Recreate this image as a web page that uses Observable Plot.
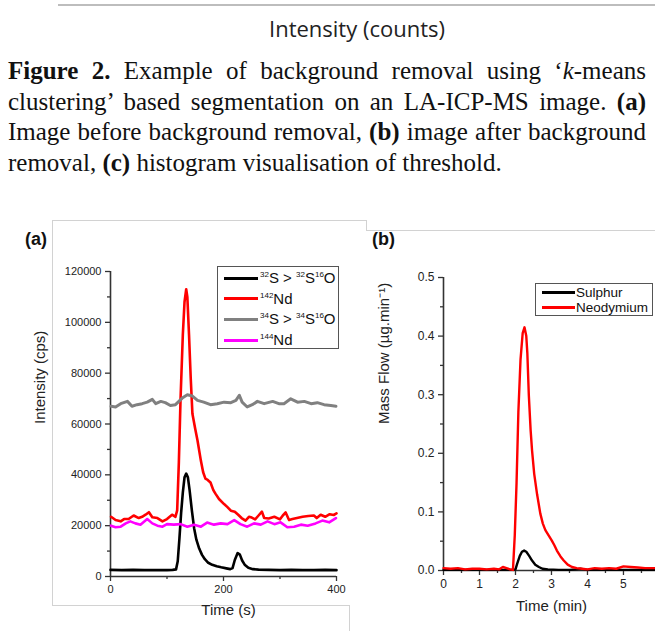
<!DOCTYPE html>
<html>
<head>
<meta charset="utf-8">
<script src="https://cdn.jsdelivr.net/npm/d3@7"></script>
<script src="https://cdn.jsdelivr.net/npm/@observablehq/plot@0.6"></script>
<style>
  html, body { margin: 0; padding: 0; background: #fff; }
  #page { position: relative; width: 655px; height: 631px; overflow: hidden; background: #fff; }
  .hline { position: absolute; height: 0; border-top: 1px solid #d2d2d2; }
  .vline { position: absolute; width: 0; border-left: 1px solid #d2d2d2; }
  #topword { position: absolute; left: 0; width: 714px; top: 14px; text-align: center; font-family: "Open Sans", sans-serif; font-size: 22px; line-height: 28px; color: #222; }
  #caption { position: absolute; left: 8px; top: 56px; width: 638px; font-family: "Liberation Serif", "Times New Roman", serif; font-size: 25px; line-height: 30.5px; text-align: justify; color: #111; }
  .plab { position: absolute; font-family: "Liberation Sans", Arial, sans-serif; font-weight: bold; font-size: 18px; color: #111; }
  .legend { position: absolute; border: 1px solid #555; background: #fff; font-family: "Liberation Sans", Arial, sans-serif; color: #111; }
  .legend .sw { position: absolute; height: 3px; }
  .legend .tx { position: absolute; white-space: nowrap; }
  .legend sup { font-size: 8px; vertical-align: 6px; line-height: 0; }
  #plotA, #plotB { position: absolute; }
</style>
</head>
<body>
<div id="page">
  <div class="hline" style="left:58px; top:4px; width:597px; border-top:2px solid #bdbdbd;"></div>
  <div id="topword">Intensity (counts)</div>
  <div id="caption"><b>Figure 2.</b> Example of background removal using ‘<i>k</i>-means clustering’ based segmentation on an LA-ICP-MS image. <b>(a)</b> Image before background removal, <b>(b)</b> image after background removal, <b>(c)</b> histogram visualisation of threshold.</div>

  <!-- panel frames -->
  <div class="hline" style="left:52px; top:220px; width:314px;"></div>
  <div class="vline" style="left:52px; top:220px; height:385px;"></div>
  <div class="vline" style="left:366px; top:220px; height:10px;"></div>
  <div class="hline" style="left:52px; top:605px; width:297px;"></div>
  <div class="vline" style="left:349px; top:605px; height:30px;"></div>
  <div class="hline" style="left:366px; top:230px; width:290px;"></div>

  <div id="plotA" style="left:0px; top:215px;"></div>
  <div id="plotB" style="left:355px; top:215px;"></div>

  <div class="plab" style="left:25px; top:229px;">(a)</div>
  <div class="plab" style="left:372px; top:229px;">(b)</div>

  <div class="legend" id="legA" style="left:217px; top:266px; width:120px; height:81px;"></div>
  <div class="legend" id="legB" style="left:535px; top:283px; width:116px; height:31px;"></div>
</div>
<script>
// ---------- Panel (a): intensity (cps) vs time (s) ----------
const seriesA = ["32S > 32S16O", "142Nd", "34S > 34S16O", "144Nd"];
const colorsA = ["#000000", "#ff0000", "#808080", "#ff00ff"];

const s32 = [[0,2600],[20,2500],[40,2600],[60,2500],[80,2500],[100,2500],[110,2600],[116,2800],[119,6000],[122,15000],[125,25000],[128,33000],[131,39000],[134,40500],[137,39000],[140,34000],[144,26000],[148,19000],[152,14500],[157,11000],[162,8500],[167,6800],[173,5400],[180,4600],[188,4000],[196,3600],[205,3200],[212,2900],[216,3300],[220,6500],[225,9200],[229,8600],[233,6300],[238,4500],[244,3400],[252,2900],[262,2700],[280,2600],[300,2500],[320,2600],[340,2500],[360,2500],[380,2600],[400,2500]];

const nd142 = [[1,23500],[9,22200],[18,21700],[24,22600],[32,22600],[41,24000],[50,23000],[56,23500],[62,24300],[68,25300],[74,23300],[83,23000],[92,21700],[100,22600],[109,24300],[115,23500],[118,26000],[121,45000],[124,70000],[128,95000],[131,108000],[134,113000],[136,110000],[139,95000],[142,78000],[145,64000],[150,58000],[154,53500],[160,45500],[164,41000],[168,38500],[172,38000],[177,37000],[182,34000],[186,32500],[192,30500],[201,28500],[207,27300],[213,25900],[220,25500],[226,24300],[232,23000],[239,22000],[245,23500],[250,23200],[256,22500],[262,24000],[268,25500],[272,23000],[280,22800],[290,23500],[300,22500],[305,24000],[310,25200],[316,22200],[322,22600],[330,23000],[340,23500],[350,23800],[360,24000],[365,23000],[372,24300],[380,23500],[388,24500],[395,24200],[400,24800]];

const s34 = [[1,67000],[9,66700],[18,68000],[30,68900],[38,67000],[47,67600],[56,68000],[65,68600],[74,69700],[80,68000],[89,68900],[97,68400],[106,67300],[115,67600],[127,70200],[136,71500],[145,71000],[154,69300],[165,68600],[177,67600],[189,68000],[201,68600],[213,68400],[222,69300],[228,71300],[233,68600],[242,66700],[251,67600],[260,68900],[272,68000],[287,68900],[298,68000],[307,68000],[319,69900],[331,68600],[343,68900],[355,68000],[366,68400],[378,67600],[390,67300],[399,67000]];

const nd144 = [[1,20000],[9,19400],[18,19600],[27,20900],[35,21700],[44,20900],[53,20400],[65,22600],[74,20900],[83,20000],[92,19600],[100,20600],[112,20400],[124,20600],[136,19600],[148,20400],[160,19600],[171,21200],[183,20400],[195,20900],[207,20600],[219,22200],[230,20600],[242,19600],[254,20900],[266,20400],[278,21700],[290,20600],[301,21300],[313,19400],[325,19600],[337,20400],[349,20000],[363,20900],[375,22000],[387,21300],[399,23000]];

const yTicksA = [0, 20000, 40000, 60000, 80000, 100000, 120000];
const yMinorA = [10000, 30000, 50000, 70000, 90000, 110000];
const xTicksA = [0, 200, 400];
const xMinorA = [100, 300];

// ---------- Panel (b): mass flow vs time (min) ----------
const seriesB = ["Sulphur", "Neodymium"];
const colorsB = ["#000000", "#ff0000"];

const sulphur = [[0,0.001],[1.9,0.001],[2.0,0.002],[2.05,0.012],[2.12,0.025],[2.18,0.032],[2.24,0.034],[2.3,0.032],[2.38,0.025],[2.46,0.017],[2.55,0.010],[2.65,0.006],[2.75,0.003],[2.9,0.002],[3.2,0.001],[3.5,0.001],[3.7,0.002],[3.8,0.003],[3.9,0.002],[4.0,0.001],[5.89,0.001]];

const neodymium = [[0,0.004],[0.2,0.003],[0.4,0.004],[0.6,0.002],[0.8,0.003],[1.0,0.003],[1.2,0.002],[1.4,0.003],[1.55,0.002],[1.65,0.006],[1.75,0.004],[1.85,0.002],[1.93,0.001],[1.98,0.06],[2.03,0.15],[2.08,0.27],[2.14,0.36],[2.2,0.405],[2.25,0.415],[2.3,0.4],[2.33,0.37],[2.37,0.3],[2.42,0.24],[2.46,0.205],[2.52,0.165],[2.6,0.13],[2.69,0.097],[2.76,0.08],[2.83,0.069],[2.92,0.06],[3.01,0.051],[3.08,0.043],[3.15,0.034],[3.25,0.024],[3.34,0.017],[3.45,0.010],[3.57,0.006],[3.7,0.004],[3.85,0.003],[4.0,0.002],[4.2,0.004],[4.4,0.003],[4.6,0.004],[4.8,0.003],[5.0,0.007],[5.2,0.006],[5.4,0.005],[5.6,0.004],[5.89,0.004]];

const yTicksB = [0, 0.1, 0.2, 0.3, 0.4, 0.5];
const yMinorB = [0.05, 0.15, 0.25, 0.35, 0.45];
const xTicksB = [0, 1, 2, 3, 4, 5];
const xMinorB = [0.5, 1.5, 2.5, 3.5, 4.5, 5.5];

const fx = d => d[0], fy = d => d[1];
const axisColor = "#333";

const plotA = Plot.plot({
  width: 350, height: 416,
  marginLeft: 110, marginRight: 14, marginTop: 56, marginBottom: 55,
  x: {domain: [0, 400]},
  y: {domain: [0, 120000]},
  style: {fontFamily: "Liberation Sans, Arial, sans-serif", fontSize: "11px", color: "#222", background: "transparent", overflow: "visible"},
  marks: [
    Plot.axisY({ticks: yTicksA, tickSize: 5, tickFormat: d => String(d), label: null, stroke: axisColor, strokeWidth: 1.3}),
    Plot.axisY({ticks: yMinorA, tickSize: 3, tickFormat: () => "", label: null, stroke: axisColor, strokeWidth: 1.3}),
    Plot.axisX({ticks: xTicksA, tickSize: 5, tickFormat: d => String(d), label: null, stroke: axisColor, strokeWidth: 1.3}),
    Plot.axisX({ticks: xMinorA, tickSize: 3, tickFormat: () => "", label: null, stroke: axisColor, strokeWidth: 1.3}),
    Plot.ruleX([0], {stroke: axisColor, strokeWidth: 1.6}),
    Plot.ruleY([0], {stroke: axisColor, strokeWidth: 1.6}),
    Plot.line(s32, {x: fx, y: fy, stroke: colorsA[0], strokeWidth: 2.6}),
    Plot.line(nd142, {x: fx, y: fy, stroke: colorsA[1], strokeWidth: 2.6}),
    Plot.line(s34, {x: fx, y: fy, stroke: colorsA[2], strokeWidth: 3}),
    Plot.line(nd144, {x: fx, y: fy, stroke: colorsA[3], strokeWidth: 2.6}),
    Plot.text(["Intensity (cps)"], {frameAnchor: "left", dx: -70, rotate: -90, fontSize: 15, fill: "#222"}),
    Plot.text(["Time (s)"], {frameAnchor: "bottom", dx: 5, dy: 38, fontSize: 15, fill: "#222"})
  ]
});
document.getElementById("plotA").appendChild(plotA);

const plotB = Plot.plot({
  width: 300, height: 416,
  marginLeft: 88, marginRight: 0, marginTop: 62, marginBottom: 61,
  x: {domain: [0, 5.89]},
  y: {domain: [0, 0.5]},
  style: {fontFamily: "Liberation Sans, Arial, sans-serif", fontSize: "12px", color: "#222", background: "transparent", overflow: "visible"},
  marks: [
    Plot.axisY({ticks: yTicksB, tickSize: 5, tickFormat: d3.format(".1f"), label: null, stroke: axisColor, strokeWidth: 1.3}),
    Plot.axisY({ticks: yMinorB, tickSize: 3, tickFormat: () => "", label: null, stroke: axisColor, strokeWidth: 1.3}),
    Plot.axisX({ticks: xTicksB, tickSize: 5, tickFormat: d => String(d), label: null, stroke: axisColor, strokeWidth: 1.3}),
    Plot.axisX({ticks: xMinorB, tickSize: 3, tickFormat: () => "", label: null, stroke: axisColor, strokeWidth: 1.3}),
    Plot.ruleX([0], {stroke: axisColor, strokeWidth: 1.6}),
    Plot.ruleY([0], {stroke: axisColor, strokeWidth: 1.6}),
    Plot.line(sulphur, {x: fx, y: fy, stroke: colorsB[0], strokeWidth: 2.4}),
    Plot.line(neodymium, {x: fx, y: fy, stroke: colorsB[1], strokeWidth: 2.4}),
    Plot.text(["Mass Flow (µg.min⁻¹)"], {frameAnchor: "left", dx: -59, rotate: -90, fontSize: 15, fill: "#222"}),
    Plot.text(["Time (min)"], {frameAnchor: "bottom", dx: 2, dy: 40, fontSize: 15, fill: "#222"})
  ]
});
document.getElementById("plotB").appendChild(plotB);

// ---------- Legends (HTML) ----------
const legLabelsA = [
  "<sup>32</sup>S &gt; <sup>32</sup>S<sup>16</sup>O",
  "<sup>142</sup>Nd",
  "<sup>34</sup>S &gt; <sup>34</sup>S<sup>16</sup>O",
  "<sup>144</sup>Nd"
];
const legA = document.getElementById("legA");
seriesA.forEach((s, i) => {
  const top = 11 + i * 20.7;
  const sw = document.createElement("div");
  sw.className = "sw"; sw.style.left = "6px"; sw.style.width = "34px"; sw.style.top = (top - 1.5) + "px"; sw.style.background = colorsA[i];
  legA.appendChild(sw);
  const tx = document.createElement("div");
  tx.className = "tx"; tx.style.left = "42px"; tx.style.top = (top - 9) + "px"; tx.style.fontSize = "15px";
  tx.innerHTML = legLabelsA[i]; tx.title = s;
  legA.appendChild(tx);
});
const legB = document.getElementById("legB");
seriesB.forEach((s, i) => {
  const top = 8.5 + i * 15;
  const sw = document.createElement("div");
  sw.className = "sw"; sw.style.left = "6px"; sw.style.width = "33px"; sw.style.top = (top - 1.5) + "px"; sw.style.background = colorsB[i];
  legB.appendChild(sw);
  const tx = document.createElement("div");
  tx.className = "tx"; tx.style.left = "40px"; tx.style.top = (top - 8) + "px"; tx.style.fontSize = "13.5px";
  tx.textContent = s;
  legB.appendChild(tx);
});
</script>
</body>
</html>
